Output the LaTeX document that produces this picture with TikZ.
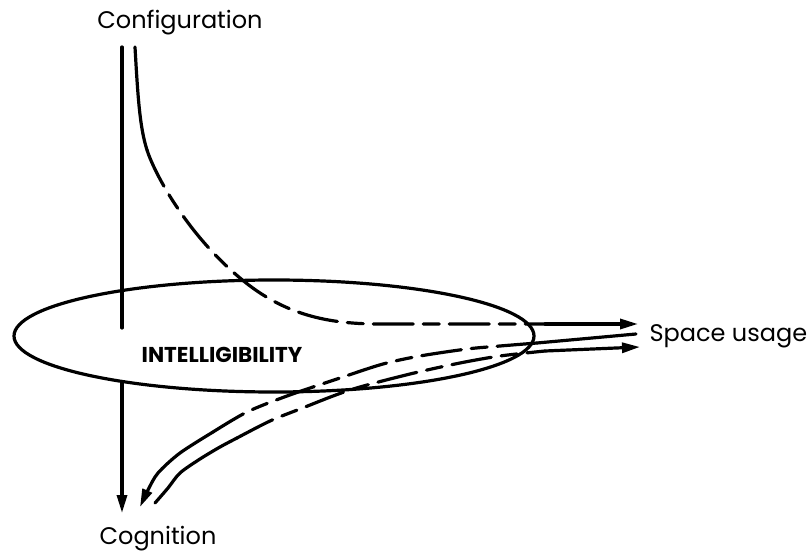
\documentclass[tikz,border=0pt]{standalone}
\usepackage{fontspec}
\setmainfont{Poppins}
\usetikzlibrary{arrows.meta,shapes.geometric}
\begin{document}
\begin{tikzpicture}[x=1pt,y=-1pt,
  line width=3.2pt,
  lbl/.style={font=\fontsize{24}{28}\selectfont, inner sep=0pt},
  keyword/.style={font=\bfseries\fontsize{21.5}{25}\selectfont, inner sep=0pt},
  ring/.style={draw, ellipse, inner sep=0pt, minimum width=520pt, minimum height=112pt},
  flow/.style={line cap=round, line join=round},
  brokenflow/.style={flow, dash pattern=on 40pt off 10pt on 16pt off 10pt},
  head/.style={-{Triangle[length=18pt,width=10pt]}}
]
\useasboundingbox (0,0) rectangle (811,553);

% labels
\node[lbl] (conf) at (180,23) {Configuration};
\node[lbl] (cog) at (158,539) {Cognition};
\node[lbl, anchor=west] (use) at (648,336) {Space usage};

% the central field
\node[ring] (intel) at (274,336) {};
\node[keyword] (intelab) at (222,355) {INTELLIGIBILITY};

% end points of the connectors
\coordinate (v1) at (122,47);
\coordinate (v2) at (122,328);
\coordinate (v3) at (122,383);
\coordinate (v4) at (122,513);
\coordinate (c0) at (135,47);
\coordinate (c1) at (147,150);
\coordinate (c2) at (545,324);
\coordinate (c3) at (638,324);
\coordinate (a0) at (636,334);
\coordinate (a1) at (537,343);
\coordinate (a2) at (213,432);
\coordinate (a3) at (140,507);
\coordinate (b0) at (155,503);
\coordinate (b1) at (237,438);
\coordinate (b2) at (545,351);
\coordinate (b3) at (640,347);

% Configuration -> Cognition
\draw[flow] (v1) -- (v2);
\draw[flow, head] (v3) -- (v4);

% Configuration -> Space usage
\draw[flow] (c0) .. controls (138,100) and (140,128) .. (c1);
\draw[brokenflow] (c1) .. controls (154,172) and (185,232) .. (240,278)
  .. controls (285,316) and (330,324) .. (380,324) -- (c2);
\draw[flow, head] (c2) -- (c3);

% Space usage -> Cognition
\draw[flow] (a0) -- (a1);
\draw[brokenflow] plot[smooth] coordinates {(a1) (500,346) (467,349) (420,356) (383,364) (340,378) (287,396) (247,412) (a2)};
\draw[flow, head] plot[smooth] coordinates {(a2) (180,453) (158,473) (148,490) (a3)};

% Cognition -> Space usage
\draw[flow] plot[smooth] coordinates {(b0) (168,488) (180,473) (200,459) (220,447) (b1)};
\draw[brokenflow] plot[smooth] coordinates {(b1) (270,421) (300,409) (350,390) (410,374) (460,363) (500,356) (b2)};
\draw[flow, head] (b2) -- (b3);
\end{tikzpicture}
\end{document}
